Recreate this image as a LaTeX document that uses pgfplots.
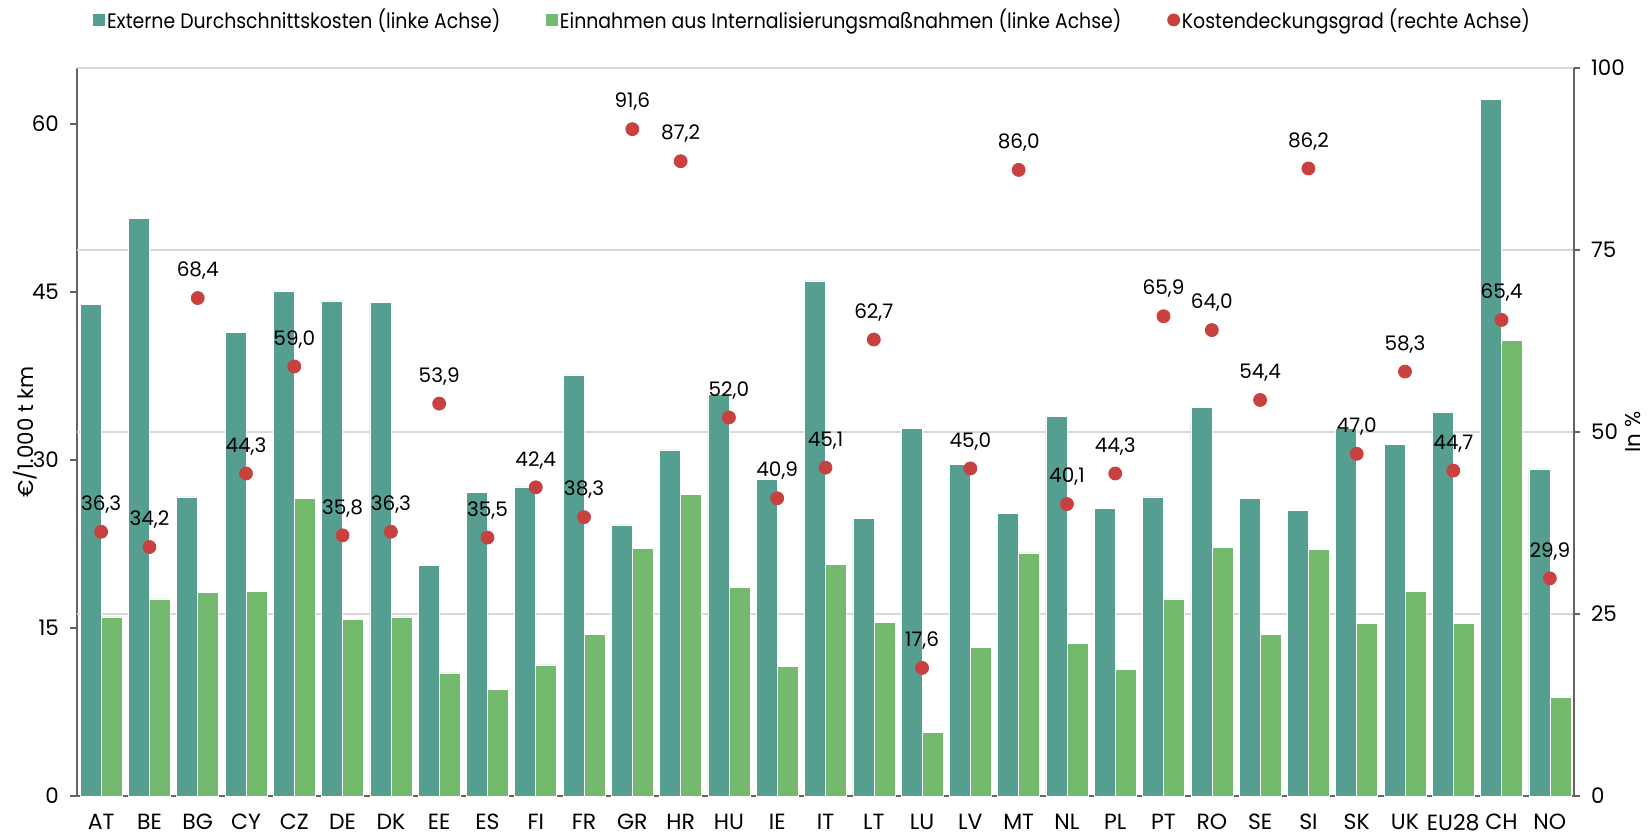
\documentclass[border=0pt]{standalone}
\usepackage{fontspec}
\setmainfont{Poppins}
\newfontfamily\legfont[FakeStretch=0.9]{Poppins}
\usepackage{pgfplots}
\pgfplotsset{compat=1.18}
\usepackage{pgfplotstable}
\definecolor{cteal}{RGB}{86,158,143}
\definecolor{cgreen}{RGB}{115,185,110}
\definecolor{cred}{RGB}{200,64,64}
\definecolor{cgrid}{RGB}{217,217,217}
\definecolor{caxis}{RGB}{100,100,100}

% Kosten und Einnahmen in EUR/1.000 tkm, Deckungsgrad in %
\pgfplotstableread{
x cost rev ratio
0 43.9 16.0 36.3
1 51.6 17.6 34.2
2 26.7 18.2 68.4
3 41.4 18.3 44.3
4 45.1 26.6 59.0
5 44.2 15.8 35.8
6 44.1 16.0 36.3
7 20.6 11.0 53.9
8 27.1 9.5 35.5
9 27.6 11.7 42.4
10 37.6 14.4 38.3
11 24.2 22.1 91.6
12 30.9 26.9 87.2
13 35.9 18.6 52.0
14 28.3 11.6 40.9
15 46.0 20.7 45.1
16 24.8 15.5 62.7
17 32.8 5.7 17.6
18 29.6 13.3 45.0
19 25.2 21.7 86.0
20 33.9 13.6 40.1
21 25.7 11.3 44.3
22 26.7 17.6 65.9
23 34.7 22.2 64.0
24 26.6 14.4 54.4
25 25.5 22.0 86.2
26 32.8 15.4 47.0
27 31.4 18.3 58.3
28 34.3 15.4 44.7
29 62.2 40.7 65.4
30 29.2 8.8 29.9
}\datatab

\pgfplotsset{
  /pgf/number format/assume math mode=true,
  common/.style={width=748.5pt, height=364pt, scale only axis,
    xmin=-0.5, xmax=30.5, tick align=outside,
    axis line style={caxis, line width=0.75pt},
    tick style={caxis, line width=0.75pt}},
}

\begin{document}
\begin{tikzpicture}
\begin{axis}[common, name=main,
  ymin=0, ymax=65,
  axis x line*=bottom, axis y line*=left,
  ybar=0pt, bar width=10.5pt,
  xtick={0,...,30},
  xticklabels={AT,BE,BG,CY,CZ,DE,DK,EE,ES,FI,FR,GR,HR,HU,IE,IT,LT,LU,LV,MT,NL,PL,PT,RO,SE,SI,SK,UK,EU28,CH,NO},
  xtick style={draw=none},
  ytick={0,15,30,45,60}, major tick length=3.5pt,
  extra y ticks={16.25,32.5,48.75,65}, extra y tick labels={},
  extra y tick style={grid=major, tick style={draw=none},
    major grid style={cgrid, line width=0.75pt}},
  xticklabel style={font=\fontsize{11}{13}\selectfont, yshift=-2pt},
  yticklabel style={font=\fontsize{10.7}{12}\selectfont, xshift=-2pt},
  every axis y label/.style={at={(axis description cs:0,0.5)}, xshift=-26pt,
    rotate=90, anchor=center, font=\fontsize{10.7}{12}\selectfont},
  ylabel={€/1.000 t km},
]
\addplot[fill=cteal, draw=white, line width=0.3pt] table[x=x, y=cost]{\datatab};
\addplot[fill=cgreen, draw=white, line width=0.3pt] table[x=x, y=rev]{\datatab};
\end{axis}

\begin{axis}[common,
  ymin=0, ymax=100,
  axis x line=none, axis y line*=right,
  ytick={0,25,50,75,100}, major tick length=3pt,
  yticklabel style={font=\fontsize{10.7}{12}\selectfont, xshift=2pt},
  every axis y label/.style={at={(axis description cs:1,0.5)}, xshift=29.5pt,
    rotate=90, anchor=center, font=\fontsize{10.7}{12}\selectfont},
  ylabel={In \%},
  legend columns=3,
  legend cell align=left,
  legend style={at={(axis description cs:0.0107,1.066)}, anchor=west,
    draw=none, fill=none, inner sep=0pt,
    font=\legfont\fontsize{10.5}{12}\selectfont,
    nodes={inner sep=0.9pt},
    /tikz/every even column/.append style={column sep=22pt}},
]
\addlegendimage{legend image code/.code={\fill[cteal] (0pt,-2.75pt) rectangle (5.5pt,2.75pt);}}
\addlegendentry{Externe Durchschnittskosten (linke Achse)}
\addlegendimage{legend image code/.code={\fill[cgreen] (0pt,-2.75pt) rectangle (5.5pt,2.75pt);}}
\addlegendentry{Einnahmen aus Internalisierungsmaßnahmen (linke Achse)}
\addlegendimage{legend image code/.code={\fill[cred] (3pt,0pt) circle (3pt);}}
\addlegendentry{Kostendeckungsgrad (rechte Achse)}
\addplot[only marks, mark=*, mark size=3.25pt, cred, forget plot,
  point meta=y,
  nodes near coords={\pgfmathprintnumber[fixed, fixed zerofill, precision=1, use comma]{\pgfplotspointmeta}},
  every node near coord/.append style={text=black, anchor=south, inner sep=0pt,
    yshift=9pt, font=\fontsize{10}{12}\selectfont}]
  table[x=x, y=ratio]{\datatab};
\end{axis}

\pgfresetboundingbox
\path ([shift={(-38.5pt,-20pt)}]main.south west) rectangle ([shift={(39pt,34pt)}]main.north east);
\end{tikzpicture}
\end{document}
